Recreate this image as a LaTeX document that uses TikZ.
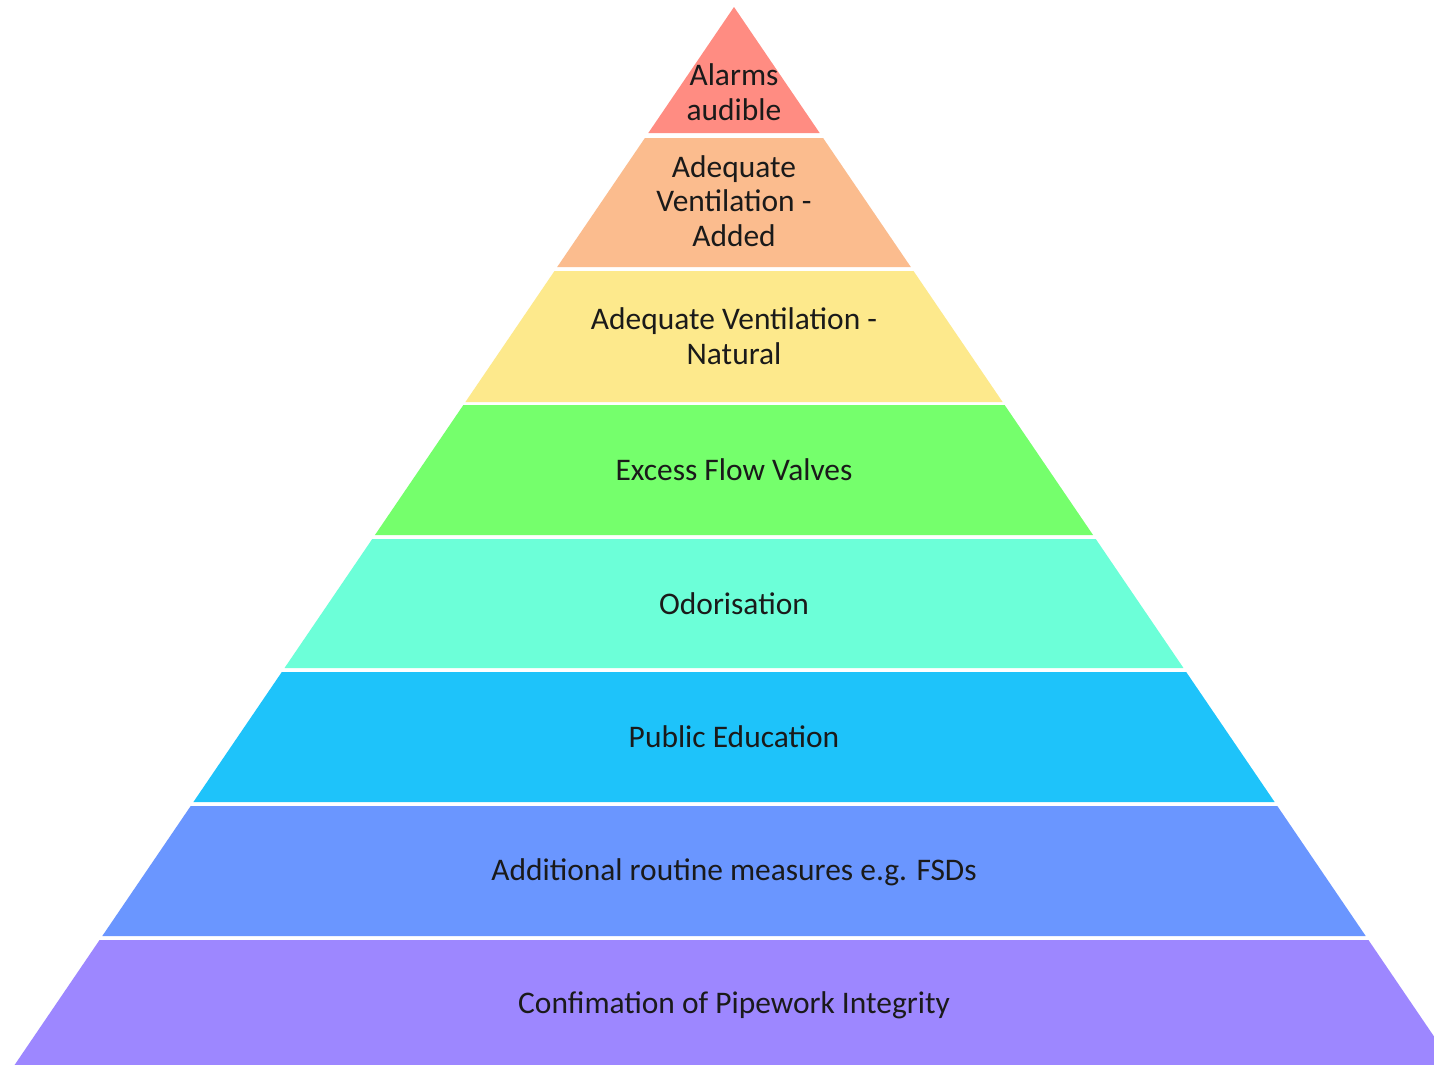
\documentclass[tikz,border=0pt]{standalone}
\usepackage{fontspec}
\setmainfont{Carlito}
\definecolor{c1}{HTML}{FF8C82}
\definecolor{c2}{HTML}{FBBC8E}
\definecolor{c3}{HTML}{FDE98C}
\definecolor{c4}{HTML}{75FF6C}
\definecolor{c5}{HTML}{6CFFD8}
\definecolor{c6}{HTML}{1EC3FA}
\definecolor{c7}{HTML}{6A96FF}
\definecolor{c8}{HTML}{9D87FF}
\definecolor{txt}{HTML}{1A1A1A}
\newcommand{\pyrlayer}[3]{%
  \fill[#3] ({734-0.68*(#1-7)},#1) -- ({734+0.68*(#1-7)},#1) -- ({734+0.68*(#2-7)},#2) -- ({734-0.68*(#2-7)},#2) -- cycle;}
\begin{document}
\begin{tikzpicture}[x=0.02cm,y=-0.02cm,
  lbl/.style={align=center,font=\fontsize{17.9}{19.6}\selectfont,text=txt,inner sep=0pt}]
\useasboundingbox (0,0) rectangle (1434,1065);
\fill[white] (0,0) rectangle (1434,1065);
\clip (0,0) rectangle (1434,1065);
\pyrlayer{7}{133}{c1}
\pyrlayer{138}{267}{c2}
\pyrlayer{271}{402}{c3}
\pyrlayer{405}{535}{c4}
\pyrlayer{539}{668}{c5}
\pyrlayer{672}{802}{c6}
\pyrlayer{806}{936}{c7}
\pyrlayer{940}{1080}{c8}
\node[lbl] (t1) at (734,92) {Alarms\\audible};
\node[lbl] (t2) at (734,201) {Adequate\\Ventilation -\\Added};
\node[lbl] (t3) at (734,336) {Adequate Ventilation -\\Natural};
\node[lbl] (t4) at (734,470) {Excess Flow Valves};
\node[lbl] (t5) at (734,604) {Odorisation};
\node[lbl] (t6) at (734,737) {Public Education};
\node[lbl] (t7) at (734,872) {Additional routine measures e.g. FSDs};
\node[lbl] (t8) at (734,1005) {Confimation of Pipework Integrity};
\end{tikzpicture}
\end{document}
